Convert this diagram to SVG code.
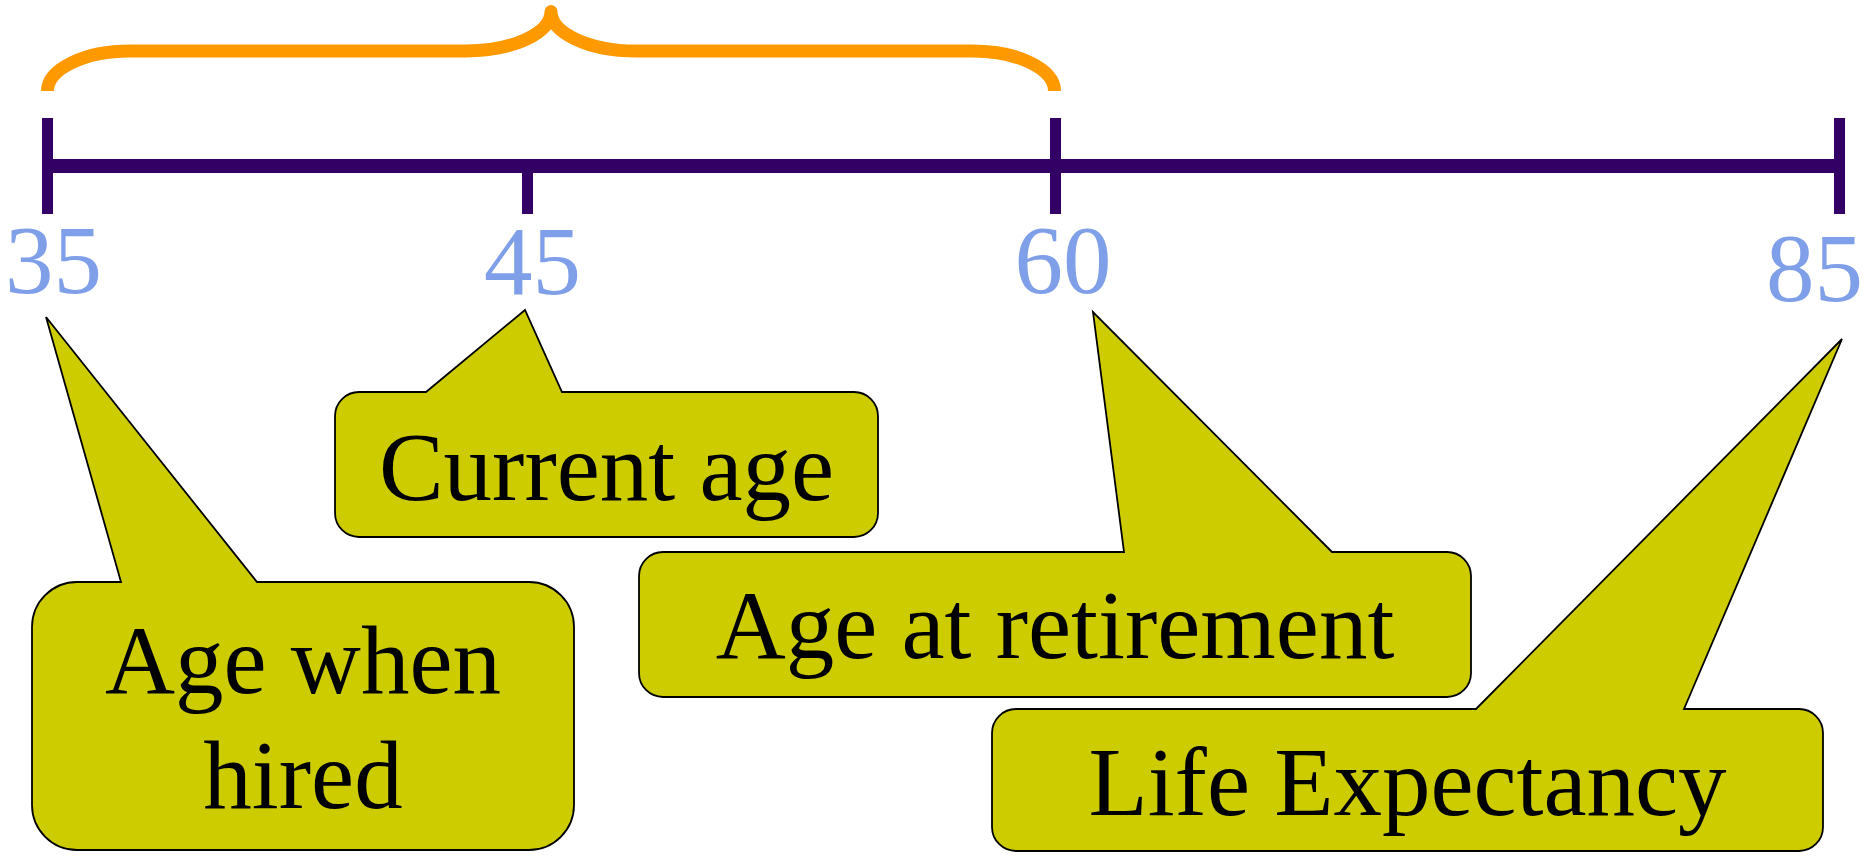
<svg xmlns="http://www.w3.org/2000/svg" width="1864" height="857" viewBox="0 0 1864 857">
  <style>
    .axis { stroke: #330066; fill: none; }
    .num { font-family: "Liberation Serif", "Times New Roman", serif; font-size: 97px; fill: #7F9FE8; text-anchor: middle; }
    .callout { fill: #CCCC00; stroke: #000000; stroke-width: 1.8; stroke-linejoin: miter; }
    .label { font-family: "Liberation Serif", "Times New Roman", serif; font-size: 97px; fill: #000000; text-anchor: middle; }
    .brace { fill: none; stroke: #FF9900; stroke-width: 13; stroke-linejoin: round; stroke-linecap: butt; }
  </style>
  <rect x="0" y="0" width="1864" height="857" fill="#FFFFFF"/>

  <g id="brace">
    <path class="brace" d="M47.5,91 C47.5,69 84.5,51 130,51 L466,51 C513,51 551,33 551,11.5 C551,33 589,51 636,51 L972,51 C1018,51 1054.5,69 1054.5,91"/>
  </g>

  <g id="timeline">
    <line class="axis" x1="47.5" y1="166" x2="1839.5" y2="166" stroke-width="14"/>
    <line class="axis" x1="47.5" y1="118" x2="47.5" y2="214" stroke-width="11"/>
    <line class="axis" x1="527.5" y1="166" x2="527.5" y2="214" stroke-width="11"/>
    <line class="axis" x1="1055.5" y1="118" x2="1055.5" y2="214" stroke-width="11"/>
    <line class="axis" x1="1839.5" y1="118" x2="1839.5" y2="214" stroke-width="11"/>
  </g>

  <g id="tick-labels">
    <text class="num" x="53.5" y="293">35</text>
    <text class="num" x="532.5" y="294">45</text>
    <text class="num" x="1063" y="293">60</text>
    <text class="num" x="1814.5" y="301">85</text>
  </g>

  <g id="callout-hired">
    <path class="callout" d="M77,582 L121,582 L46,317 L257,582 L529,582 A45,45 0 0 1 574,627 L574,805 A45,45 0 0 1 529,850 L77,850 A45,45 0 0 1 32,805 L32,627 A45,45 0 0 1 77,582 Z"/>
    <text class="label" x="303" y="693">Age when</text>
    <text class="label" x="303" y="808">hired</text>
  </g>

  <g id="callout-current">
    <path class="callout" d="M359,392 L426,392 L525,310 L562,392 L854,392 A24,24 0 0 1 878,416 L878,513 A24,24 0 0 1 854,537 L359,537 A24,24 0 0 1 335,513 L335,416 A24,24 0 0 1 359,392 Z"/>
    <text class="label" x="606.5" y="500">Current age</text>
  </g>

  <g id="callout-retirement">
    <path class="callout" d="M663,552 L1124,552 L1093,312 L1332,552 L1447,552 A24,24 0 0 1 1471,576 L1471,673 A24,24 0 0 1 1447,697 L663,697 A24,24 0 0 1 639,673 L639,576 A24,24 0 0 1 663,552 Z"/>
    <text class="label" x="1055" y="658">Age at retirement</text>
  </g>

  <g id="callout-life">
    <path class="callout" d="M1016,709 L1476,709 L1842,339 L1684,709 L1799,709 A24,24 0 0 1 1823,733 L1823,827 A24,24 0 0 1 1799,851 L1016,851 A24,24 0 0 1 992,827 L992,733 A24,24 0 0 1 1016,709 Z"/>
    <text class="label" x="1407.5" y="815">Life Expectancy</text>
  </g>
</svg>
